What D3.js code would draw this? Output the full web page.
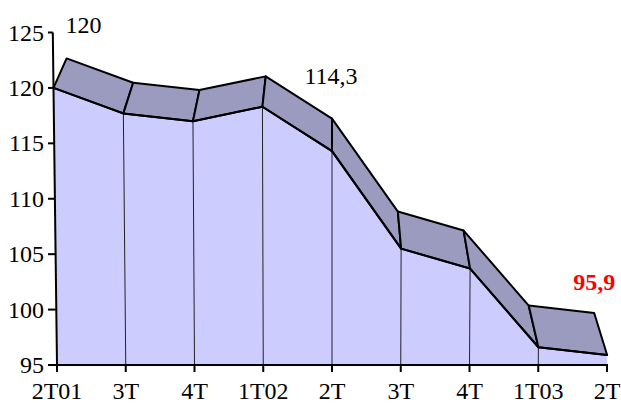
<!DOCTYPE html>
<html><head><meta charset="utf-8">
<script src="https://cdn.jsdelivr.net/npm/d3@7"></script>
<style>body{margin:0;background:#fff}svg{display:block}text{font-family:'Liberation Serif','Times New Roman',serif}</style>
</head><body>
<svg id="c" width="621" height="403"></svg>
<script>
const categories = ["2T01","3T","4T","1T02","2T","3T","4T","1T03","2T"];
const values = [120, 117.7, 117.0, 118.3, 114.3, 105.5, 103.7, 96.6, 95.9];
const yTicks = [95, 100, 105, 110, 115, 120, 125];
const labelIdx = [0, 4, 8];
const labelText = ["120", "114,3", "95,9"];

const svg = d3.select("#c");
const x = d3.scalePoint().domain(d3.range(categories.length)).range([57, 607]);
const y = d3.scaleLinear().domain([95, 125]).range([365, 32.5]);
const base = y(95);
const vpx = 332, vpy = -540, k = 0.047, tilt = 4.6e-5;
const front = (px, py) => [px + (px - vpx) * tilt * (base - py), py];
const back = (p) => [p[0] + (vpx - p[0]) * k, p[1] + (vpy - p[1]) * k];

const F = values.map((v, i) => front(x(i), y(v)));
const B = F.map(back);
const line = d3.line();

// front area
const area = [[x(0), base], ...F, [x(values.length - 1), base]];
svg.append("path").attr("d", line(area) + "Z").attr("fill", "#ccccff");

// vertical drop lines
svg.selectAll(".drop").data(F.slice(1, -1)).enter().append("line")
  .attr("x1", (d, i) => x(i + 1)).attr("y1", base)
  .attr("x2", d => d[0]).attr("y2", d => d[1])
  .attr("stroke", "#222").attr("stroke-width", 1);

// top band
for (let i = 0; i < F.length - 1; i++) {
  svg.append("path").attr("d", line([F[i], F[i + 1], B[i + 1], B[i]]) + "Z")
    .attr("fill", "#9b9bbf").attr("stroke", "#000").attr("stroke-width", 2)
    .attr("stroke-linejoin", "round");
}
svg.append("path").attr("d", line(F)).attr("fill", "none").attr("stroke", "#000").attr("stroke-width", 2);

// y axis
const topAx = front(x(0), y(125));
svg.append("line").attr("x1", topAx[0]).attr("y1", topAx[1]).attr("x2", x(0)).attr("y2", base)
  .attr("stroke", "#000").attr("stroke-width", 2);
const yt = svg.selectAll(".yt").data(yTicks).enter().append("g");
yt.append("line").attr("x1", 48).attr("x2", d => front(x(0), y(d))[0]).attr("y1", d => y(d)).attr("y2", d => y(d))
  .attr("stroke", "#000").attr("stroke-width", 2);
yt.append("text").attr("x", 44).attr("y", d => y(d)).attr("dy", "0.34em").attr("text-anchor", "end")
  .attr("font-size", 24).text(d => d);

// x axis
svg.append("line").attr("x1", x(0) - 1).attr("x2", x(values.length - 1) + 1).attr("y1", base).attr("y2", base)
  .attr("stroke", "#000").attr("stroke-width", 2);
const xt = svg.selectAll(".xt").data(categories).enter().append("g");
xt.append("line").attr("x1", (d, i) => x(i)).attr("x2", (d, i) => x(i)).attr("y1", base).attr("y2", base + 7)
  .attr("stroke", "#000").attr("stroke-width", 2);
xt.append("text").attr("x", (d, i) => x(i)).attr("y", 399).attr("text-anchor", "middle")
  .attr("font-size", 24).text(d => d);

// data labels
const labOff = [[17, -25], [-1, -35], [0, -23]];
labelIdx.forEach((idx, j) => {
  const p = B[idx];
  svg.append("text").attr("x", p[0] + labOff[j][0]).attr("y", p[1] + labOff[j][1])
    .attr("text-anchor", "middle").attr("font-size", 24)
    .attr("fill", j === 2 ? "#ff0000" : "#000").attr("font-weight", j === 2 ? "bold" : "normal")
    .text(labelText[j]);
});
</script>
</body></html>
